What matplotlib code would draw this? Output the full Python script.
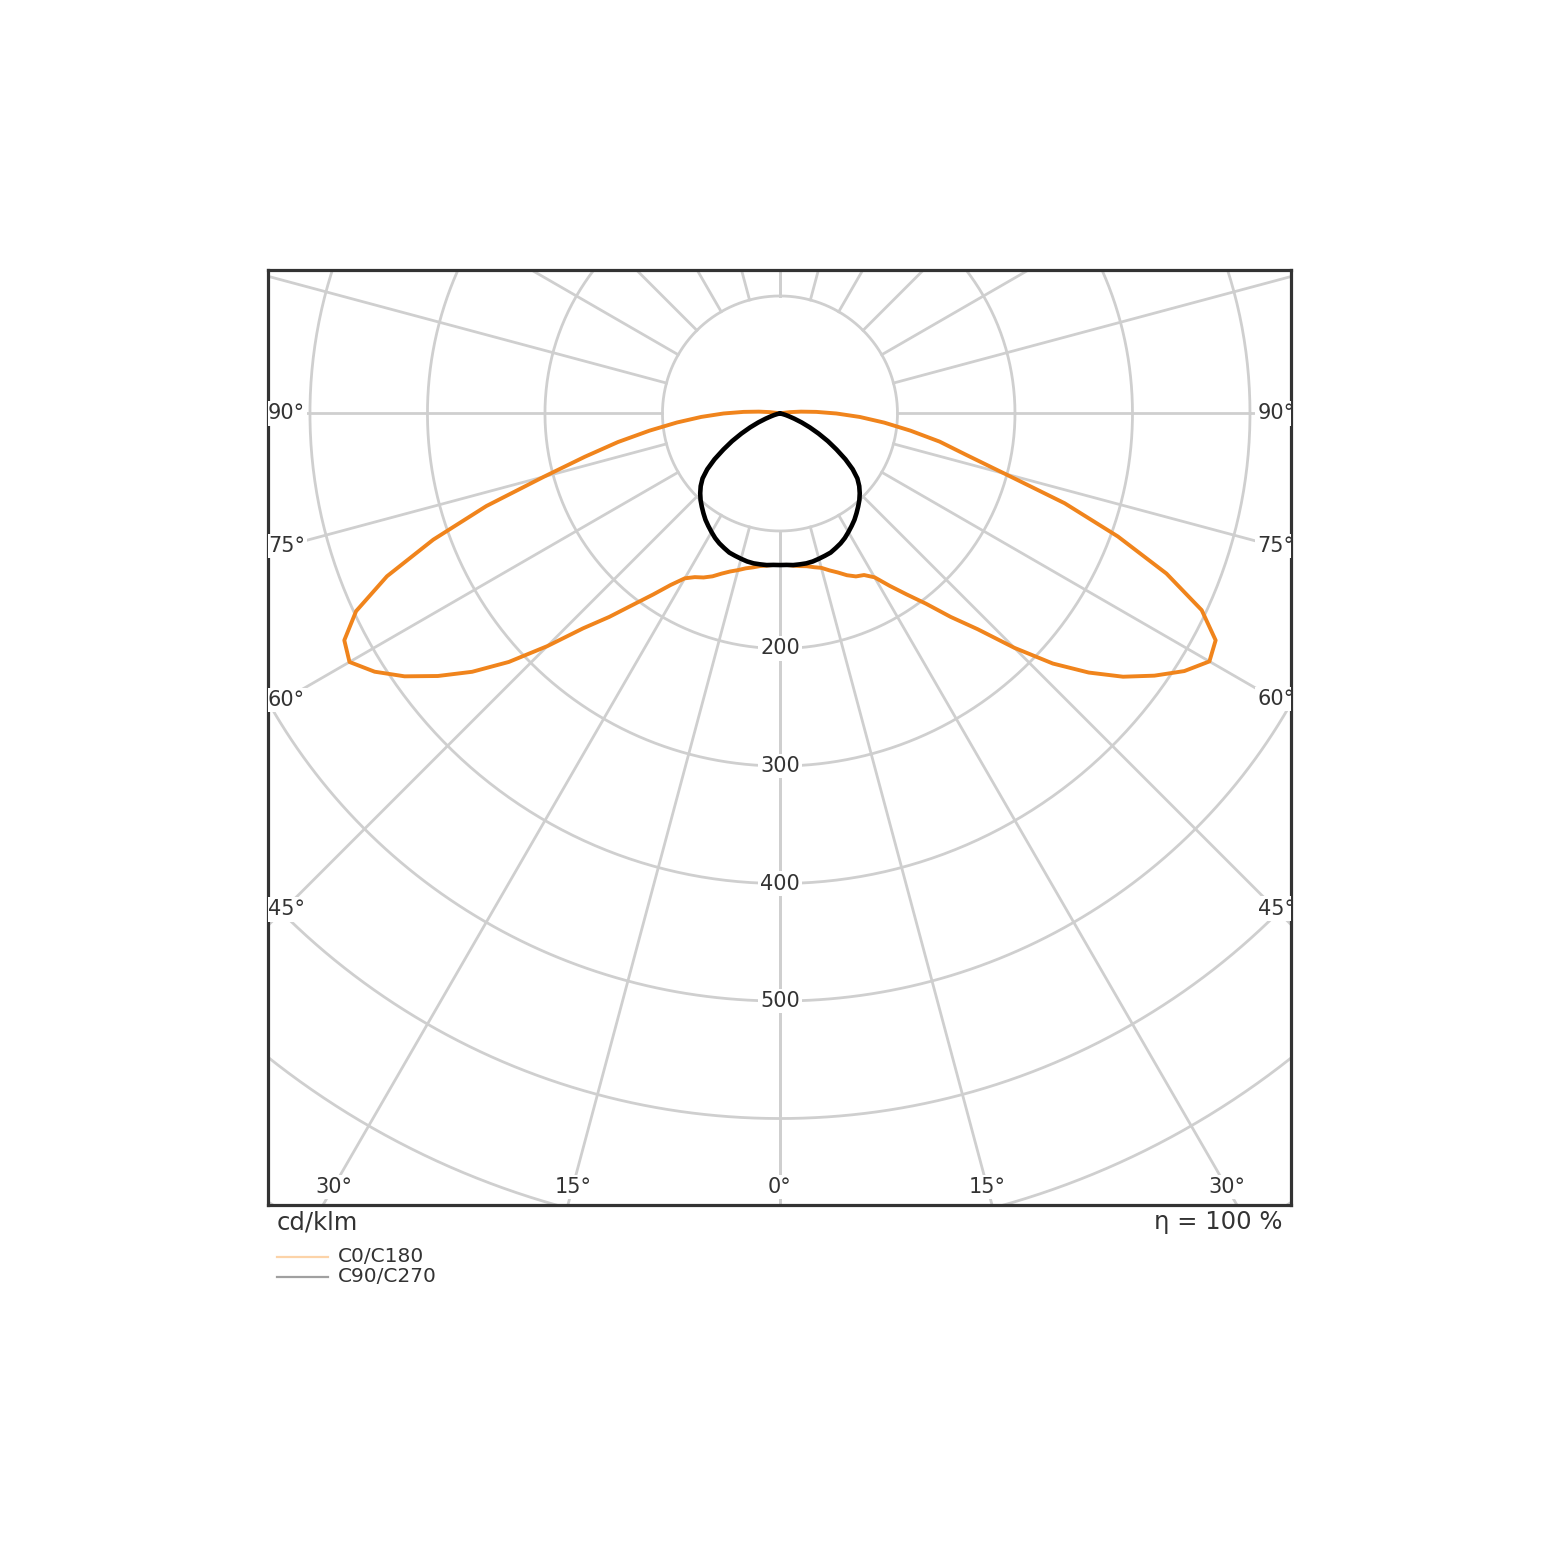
import numpy as np
import matplotlib
matplotlib.use("Agg")
import matplotlib.pyplot as plt

# gamma angles (deg) and intensities (cd/klm)
gamma_fine = np.arange(0, 105.1, 2.5)
c0 = [129, 129, 130, 131, 132, 134, 136, 140, 144, 149, 153, 155, 161, 174, 188,
      204, 226, 249, 282, 315, 343, 368, 389, 408, 422, 418, 396, 356, 306, 254,
      198, 162, 138, 112, 89, 68, 48, 31, 18, 9, 3, 0, 0]
c180 = [129, 129, 130, 131, 133, 135, 138, 141, 145, 150, 154, 157, 162, 173, 188,
        205, 226, 248, 280, 313, 342, 367, 390, 409, 423, 418, 398, 362, 314, 262,
        208, 170, 140, 112, 88, 67, 48, 31, 18, 9, 3, 0, 0]

gamma_c90 = np.arange(0, 90.1, 2.5)
c90 = [129, 129, 129.5, 129.5, 129.5, 129, 128, 127, 126, 124, 122, 119.5, 116.5, 113.5,
       110.5, 107, 103.5, 100, 96, 91.5, 86, 78, 68, 57, 47, 37, 28, 20, 13, 8, 5, 2.5,
       1, 0, 0, 0, 0]

ring_values = [100, 200, 300, 400, 500, 600, 700, 800]
ring_labels = [200, 300, 400, 500]
side_angles = [45, 60, 75, 90]
bottom_angles = [0, 15, 30]

grid_col = "#cfcfcf"
text_col = "#333333"

fig = plt.figure(figsize=(15.6, 15.61), dpi=100)
ax = fig.add_axes([268 / 1560, 1 - 1205 / 1561, 1023 / 1560, 935 / 1561])
xmin, xmax = -435.7, 434.9
ymin, ymax = -673.6, 122.1
ax.set_xlim(xmin, xmax)
ax.set_ylim(ymin, ymax)
ax.set_xticks([])
ax.set_yticks([])
for s in ax.spines.values():
    s.set_color(text_col)
    s.set_linewidth(2.3)

# grid rings
t = np.linspace(0, 2 * np.pi, 720)
for r in ring_values:
    ax.plot(r * np.cos(t), r * np.sin(t), color=grid_col, lw=2.0, zorder=1)

# spokes every 15 degrees
for a in range(0, 181, 15):
    g = np.radians(a)
    for sgn in (1, -1):
        ax.plot([sgn * 100 * np.sin(g), sgn * 1200 * np.sin(g)],
                [-100 * np.cos(g), -1200 * np.cos(g)],
                color=grid_col, lw=2.0, zorder=1)

box = dict(facecolor="white", edgecolor="none", pad=1.5)

for v in ring_labels:
    ax.text(0, -v, str(v), ha="center", va="center", fontsize=15,
            color=text_col, bbox=box, zorder=3)

xs = 16 / 1.175
for a in side_angles:
    g = np.radians(a)
    yl = -(-xmin - xs) / np.tan(g)
    ax.text(xmin, yl, f"{a}°", ha="left", va="center", fontsize=15,
            color=text_col, bbox=box, zorder=3, clip_on=True)
    yr = -(xmax - xs) / np.tan(g)
    ax.text(xmax + 3, yr, f"{a}°", ha="right", va="center", fontsize=15,
            color=text_col, bbox=box, zorder=3, clip_on=True)

yb = ymin + 18 / 1.175
for a in bottom_angles:
    g = np.radians(a)
    xb = -yb * np.tan(g)
    for sgn in ((1, -1) if a else (1,)):
        ax.text(sgn * xb, yb, f"{a}°", ha="center", va="center", fontsize=15,
                color=text_col, bbox=box, zorder=3, clip_on=True)

# C0/C180 curve
g = np.radians(gamma_fine)
i0 = np.array(c0, dtype=float)
i180 = np.array(c180, dtype=float)
x_or = np.concatenate([-(i180 * np.sin(g))[::-1], i0 * np.sin(g)])
y_or = np.concatenate([-(i180 * np.cos(g))[::-1], -i0 * np.cos(g)])
ax.plot(x_or, y_or, color="#f0841c", lw=2.8, zorder=4,
        solid_joinstyle="round", solid_capstyle="round")

# C90/C270 curve
g2 = np.radians(gamma_c90)
i90 = np.array(c90, dtype=float)
x_bl = np.concatenate([-(i90 * np.sin(g2))[::-1], i90 * np.sin(g2)])
y_bl = np.concatenate([-(i90 * np.cos(g2))[::-1], -i90 * np.cos(g2)])
ax.plot(x_bl, y_bl, color="black", lw=3.3, zorder=5,
        solid_joinstyle="round", solid_capstyle="round")

# texts under the chart
fig.text(277 / 1560, 1 - 1222 / 1561, "cd/klm", ha="left", va="center",
         fontsize=17.5, color=text_col)
fig.text(1282 / 1560, 1 - 1222 / 1561, "η = 100 %", ha="right", va="center",
         fontsize=17.5, color=text_col)

# legend
leg_items = [("C0/C180", "#fcd3a8", 1257), ("C90/C270", "#a0a0a0", 1277)]
for label, col, ypx in leg_items:
    yf = 1 - ypx / 1561
    fig.add_artist(plt.Line2D([277 / 1560, 328 / 1560], [yf, yf], color=col, lw=1.6))
    fig.text(338 / 1560, yf, label, ha="left", va="center", fontsize=14.5, color=text_col)

fig.savefig("out.png", dpi=100, facecolor="white")
